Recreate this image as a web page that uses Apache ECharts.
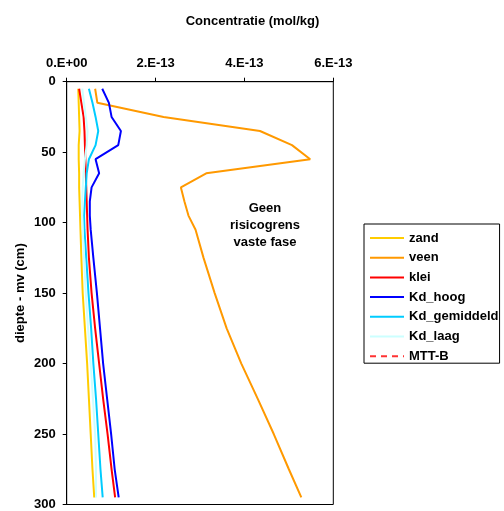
<!DOCTYPE html>
<html>
<head>
<meta charset="utf-8">
<script src="https://cdn.jsdelivr.net/npm/echarts@6/dist/echarts.min.js"></script>
<style>html,body{margin:0;padding:0;background:#fff}#c{width:504px;height:511px}</style>
</head>
<body>
<div id="c"></div>
<script>
// depths (cm below ground level)
var depths = [5,15,25,35,45,55,65,75,85,95,105,125,150,175,200,225,250,275,295];
// concentrations in units of 1E-13 mol/kg
var zand        = [0.26,0.27,0.28,0.29,0.27,0.27,0.28,0.28,0.29,0.30,0.31,0.33,0.36,0.41,0.46,0.50,0.54,0.58,0.62];
var veen        = [0.64,0.69,2.18,4.35,5.07,5.48,3.14,2.57,2.65,2.74,2.90,3.08,3.33,3.60,3.93,4.30,4.66,5.00,5.28];
var klei        = [0.28,0.33,0.38,0.40,0.41,0.42,0.43,0.44,0.45,0.46,0.47,0.50,0.56,0.64,0.73,0.82,0.92,1.01,1.09];
var kdHoog      = [0.80,0.95,1.01,1.22,1.16,0.65,0.73,0.56,0.52,0.52,0.54,0.60,0.68,0.75,0.82,0.91,1.00,1.08,1.17];
var kdGemiddeld = [0.50,0.58,0.65,0.71,0.65,0.50,0.45,0.43,0.41,0.39,0.40,0.44,0.49,0.55,0.60,0.66,0.71,0.76,0.81];
var kdLaag      = [0.35,0.39,0.43,0.47,0.45,0.41,0.38,0.36,0.35,0.35,0.36,0.39,0.43,0.48,0.54,0.59,0.64,0.66,0.66];
var mttB        = [];
var xTicks = ['0.E+00','2.E-13','4.E-13','6.E-13'];
var annotation = ['Geen','risicogrens','vaste fase'];

function pairs(vals){ return vals.map(function(v,i){ return [v*1e-13, depths[i]]; }); }

var FONT = 'Liberation Sans, Arial, sans-serif';
function mk(name, vals, color, dashed){
  return {
    name: name, type: 'line', data: pairs(vals), showSymbol: false, symbol: 'none',
    lineStyle: {color: color, width: 2, type: dashed ? [6,5] : 'solid'},
    itemStyle: {color: color}, animation: false
  };
}

var chart = echarts.init(document.getElementById('c'));
chart.setOption({
  animation: false,
  textStyle: {fontFamily: FONT},
  grid: {left: 66.7, top: 81.7, right: 170.7, bottom: 4.3, show: true, borderColor: '#000', borderWidth: 1, backgroundColor: 'transparent'},
  xAxis: {
    type: 'value', position: 'top', min: 0, max: 6e-13, interval: 2e-13,
    axisLine: {show: true, lineStyle: {color: '#000', width: 1}},
    axisTick: {show: true, length: 4, lineStyle: {color: '#000'}},
    splitLine: {show: false},
    axisLabel: {margin: 12, color: '#000', fontWeight: 'bold', fontSize: 13, fontFamily: FONT,
      formatter: function(v){ return xTicks[Math.round(v/2e-13)]; }}
  },
  yAxis: {
    type: 'value', inverse: true, min: 0, max: 300, interval: 50,
    name: 'diepte - mv (cm)', nameLocation: 'middle', nameGap: 40, nameMoveOverlap: false,
    nameTextStyle: {color: '#000', fontWeight: 'bold', fontSize: 13, fontFamily: FONT},
    axisLine: {show: true, lineStyle: {color: '#000', width: 1}},
    axisTick: {show: true, length: 4, lineStyle: {color: '#000'}},
    splitLine: {show: false},
    axisLabel: {margin: 11, color: '#000', fontWeight: 'bold', fontSize: 13, fontFamily: FONT}
  },
  legend: {
    orient: 'vertical', left: 364, top: 224, itemWidth: 34, itemHeight: 13, itemGap: 6.7,
    padding: [7.5, 1, 0.5, 5], borderColor: '#000', borderWidth: 1, itemTextGap: 0,
    itemStyle: {opacity: 0},
    textStyle: {color: '#000', fontWeight: 'bold', fontSize: 13, fontFamily: FONT},
    data: ['zand','veen','klei','Kd_hoog','Kd_gemiddeld','Kd_laag','MTT-B']
  },
  graphic: [
    {type: 'text', style: {text: 'Concentratie (mol/kg)', x: 252.5, y: 21, align: 'center', verticalAlign: 'middle', font: 'bold 13px ' + FONT, fill: '#000'}},
    {type: 'text', style: {text: annotation.join('\n'), x: 265, y: 225.5, align: 'center', verticalAlign: 'middle', lineHeight: 17, font: 'bold 13px ' + FONT, fill: '#000'}}
  ],
  series: [
    mk('zand', zand, '#FFCC00'),
    mk('veen', veen, '#FF9900'),
    mk('klei', klei, '#FF0000'),
    mk('Kd_hoog', kdHoog, '#0000FF'),
    mk('Kd_gemiddeld', kdGemiddeld, '#00CCFF'),
    mk('Kd_laag', kdLaag, '#CCFFFF'),
    mk('MTT-B', mttB, '#FF3333', true)
  ]
});
</script>
</body>
</html>
